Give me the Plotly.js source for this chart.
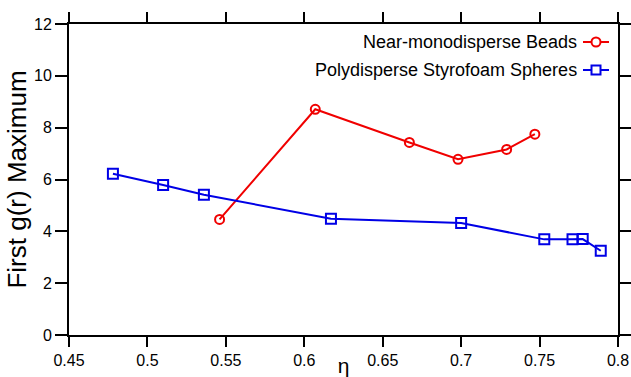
<!DOCTYPE html>
<html>
<head>
<meta charset="utf-8">
<script src="https://cdn.plot.ly/plotly-3.0.1.min.js"></script>
<style>html,body{margin:0;padding:0;background:#fff;}#chart{width:631px;height:377px;}</style>
</head>
<body>
<div id="chart"></div>
<script>
// Data
const beadsEta = [0.546, 0.607, 0.667, 0.698, 0.729, 0.747];
const beadsG   = [4.46, 8.71, 7.43, 6.78, 7.16, 7.75];
const foamEta  = [0.478, 0.510, 0.536, 0.617, 0.700, 0.753, 0.771, 0.7775, 0.789];
const foamG    = [6.22, 5.79, 5.41, 4.49, 4.32, 3.69, 3.69, 3.70, 3.25];
const seriesNames = ["Near-monodisperse Beads", "Polydisperse Styrofoam Spheres"];
const xTickVals = [0.45, 0.5, 0.55, 0.6, 0.65, 0.7, 0.75, 0.8];
const xTickText = ["0.45", "0.5", "0.55", "0.6", "0.65", "0.7", "0.75", "0.8"];
const yTickVals = [0, 2, 4, 6, 8, 10, 12];

const RED = "rgb(240,0,0)";
const BLUE = "rgb(0,0,230)";
const FONT = "Arial, 'Liberation Sans', sans-serif";

const traces = [
  {x: beadsEta, y: beadsG, name: seriesNames[0], type: "scatter", mode: "lines+markers",
   line: {color: RED, width: 2},
   marker: {symbol: "circle-open", size: 9, color: RED, line: {width: 2, color: RED}}},
  {x: foamEta, y: foamG, name: seriesNames[1], type: "scatter", mode: "lines+markers",
   line: {color: BLUE, width: 2},
   marker: {symbol: "square-open", size: 10, color: BLUE, line: {width: 2, color: BLUE}}}
];

// Legend layout (symbol on the right of the text, as in the reference)
const legendRows = [
  {yPaper: (335 - 42) / 311, color: RED, kind: "circle"},
  {yPaper: (335 - 70) / 311, color: BLUE, kind: "rect"}
];
const legTextX = (579 - 69) / 549;
const legLineX0 = (583 - 69) / 549, legLineX1 = (609 - 69) / 549, legMarkX = (596 - 69) / 549;

const annotations = [];
const shapes = [];
legendRows.forEach((r, i) => {
  annotations.push({xref: "paper", yref: "paper", x: legTextX, y: r.yPaper, xanchor: "right", yanchor: "middle",
    text: seriesNames[i], showarrow: false, font: {family: FONT, size: 18, color: "#000"}});
  shapes.push({type: "line", xref: "paper", yref: "paper", x0: legLineX0, x1: legLineX1, y0: r.yPaper, y1: r.yPaper,
    line: {color: r.color, width: 2}});
  shapes.push({type: r.kind, xref: "paper", yref: "paper", xsizemode: "pixel", ysizemode: "pixel",
    xanchor: legMarkX, yanchor: r.yPaper, x0: -4.5, x1: 4.5, y0: -4.5, y1: 4.5,
    line: {color: r.color, width: 2}, fillcolor: "white"});
});

const layout = {
  width: 631, height: 377,
  margin: {l: 69, r: 13, t: 24, b: 42},
  paper_bgcolor: "#fff", plot_bgcolor: "#fff",
  showlegend: false,
  font: {family: FONT, color: "#000"},
  xaxis: {range: [0.45, 0.8], tickvals: xTickVals, ticktext: xTickText,
    showgrid: false, zeroline: false, showline: true, linecolor: "#000", linewidth: 2,
    mirror: "ticks", ticks: "outside", ticklen: 10, tickwidth: 2, tickcolor: "#000",
    tickfont: {family: FONT, size: 16, color: "#000"},
    title: {text: "η", font: {family: FONT, size: 21, color: "#000"}, standoff: 2}},
  yaxis: {range: [0, 12], tickvals: yTickVals,
    showgrid: false, zeroline: false, showline: true, linecolor: "#000", linewidth: 2,
    mirror: "ticks", ticks: "outside", ticklen: 12, tickwidth: 2, tickcolor: "#000",
    tickfont: {family: FONT, size: 16, color: "#000"},
    title: {text: "First g(r) Maximum", font: {family: FONT, size: 26, color: "#000"}, standoff: 0}},
  annotations: annotations,
  shapes: shapes
};

Plotly.newPlot("chart", traces, layout, {displayModeBar: false, staticPlot: true});
</script>
</body>
</html>
